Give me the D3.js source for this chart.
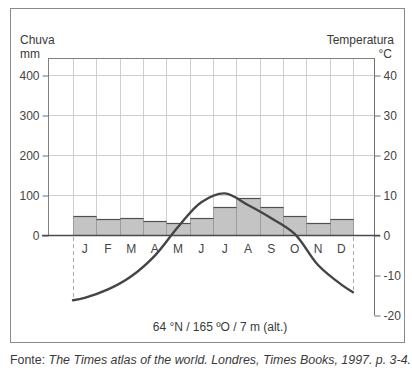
<!DOCTYPE html>
<html>
<head>
<meta charset="utf-8">
<script src="https://cdn.jsdelivr.net/npm/d3@7"></script>
<style>
  body { margin: 0; background: #fff; }
  svg { display: block; font-family: "Liberation Sans", Arial, sans-serif; }
</style>
</head>
<body>
<svg id="chart" width="412" height="374"></svg>
<script>
// Monthly data
var months = ['J', 'F', 'M', 'A', 'M', 'J', 'J', 'A', 'S', 'O', 'N', 'D'];
var rainfall = [47, 39, 42, 34, 29, 42, 69, 93, 69, 47, 31, 39];
var temperature = [-15.7, -13.6, -10.3, -5.2, 2.0, 8.2, 10.4, 7.5, 4.2, 0.3, -7.5, -12.4];
var tempEdges = [-16.3, -14.3];  // curve ends at the start of Jan and end of Dec
var rainTicks = [0, 100, 200, 300, 400];
var tempTicks = [-20, -10, 0, 10, 20, 30, 40];

var svg = d3.select('#chart');
var ink = '#3a3a3a';

var box = { left: 48, right: 374, top: 58, bottom: 235 };

var x = d3.scaleLinear().domain([0, 12]).range([73, 353]);
var yRain = d3.scaleLinear().domain([0, 400]).range([235, 75]);
var yTemp = d3.scaleLinear().domain([0, 40]).range([235, 75]);

// outer frame
svg.append('rect')
  .attr('x', 10.5).attr('y', 8.5)
  .attr('width', 394).attr('height', 334)
  .attr('fill', 'none')
  .attr('stroke', '#8a8a8a');

// grid
var grid = svg.append('g').attr('stroke', '#cfcfcf').attr('stroke-width', 1);
grid.selectAll('line.h')
  .data(rainTicks.slice(1))
  .enter().append('line')
    .attr('x1', box.left).attr('x2', box.right)
    .attr('y1', function(d) { return Math.round(yRain(d)) + 0.5; })
    .attr('y2', function(d) { return Math.round(yRain(d)) + 0.5; });
grid.selectAll('line.v')
  .data(d3.range(13))
  .enter().append('line')
    .attr('x1', function(d) { return Math.round(x(d)) + 0.5; })
    .attr('x2', function(d) { return Math.round(x(d)) + 0.5; })
    .attr('y1', box.top).attr('y2', box.bottom);

// precipitation bars
var bars = svg.append('g');
bars.selectAll('rect')
  .data(rainfall)
  .enter().append('rect')
    .attr('x', function(d, i) { return Math.round(x(i)) + 0.5; })
    .attr('width', function(d, i) { return Math.round(x(i + 1)) - Math.round(x(i)); })
    .attr('y', function(d) { return Math.round(yRain(d)) + 0.5; })
    .attr('height', function(d) { return Math.round(yRain(0)) - Math.round(yRain(d)); })
    .attr('fill', '#c4c4c4')
    .attr('stroke', '#9c9c9c');
bars.selectAll('line')
  .data(rainfall)
  .enter().append('line')
    .attr('x1', function(d, i) { return Math.round(x(i)) + 0.5; })
    .attr('x2', function(d, i) { return Math.round(x(i + 1)) + 0.5; })
    .attr('y1', function(d) { return Math.round(yRain(d)) + 0.5; })
    .attr('y2', function(d) { return Math.round(yRain(d)) + 0.5; })
    .attr('stroke', '#505050')
    .attr('stroke-width', 1.2);

// plot frame
svg.append('rect')
  .attr('x', box.left + 0.5).attr('y', box.top + 0.5)
  .attr('width', box.right - box.left).attr('height', box.bottom - box.top)
  .attr('fill', 'none')
  .attr('stroke', '#808080');

// left axis
var leftAxis = d3.axisLeft(yRain).tickValues(rainTicks).tickSize(6).tickPadding(3);
var gL = svg.append('g').attr('transform', 'translate(' + (box.left + 0.5) + ',0.5)').call(leftAxis);
gL.select('.domain').remove();

// right axis
var rightAxis = d3.axisRight(yTemp).tickValues(tempTicks).tickSize(6).tickPadding(3)
  .tickFormat(function(d) { return d < 0 ? '-' + Math.abs(d) : d; });
var gR = svg.append('g').attr('transform', 'translate(' + (box.right + 0.5) + ',0.5)').call(rightAxis);
gR.select('.domain').attr('d', 'M0,' + box.top + 'V' + yTemp(-20));

[gL, gR].forEach(function(g) {
  g.selectAll('line, path').attr('stroke', '#707070');
  g.selectAll('text')
    .attr('fill', '#444')
    .style('font-size', '12px')
    .style('font-family', '"Liberation Sans", Arial, sans-serif');
});

// zero line
svg.append('line')
  .attr('x1', box.left - 6).attr('x2', box.right + 6)
  .attr('y1', Math.round(yRain(0)) + 0.5).attr('y2', Math.round(yRain(0)) + 0.5)
  .attr('stroke', '#4a4a4a')
  .attr('stroke-width', 1.3);

// dashed drop lines at the ends of the year
svg.selectAll('line.drop')
  .data([{ m: 0, t: tempEdges[0] }, { m: 12, t: tempEdges[1] }])
  .enter().append('line')
    .attr('x1', function(d) { return Math.round(x(d.m)) + 0.5; })
    .attr('x2', function(d) { return Math.round(x(d.m)) + 0.5; })
    .attr('y1', yRain(0) + 2)
    .attr('y2', function(d) { return yTemp(d.t); })
    .attr('stroke', '#aaaaaa')
    .attr('stroke-dasharray', '4,3');

// month labels
svg.append('g').selectAll('text')
  .data(months)
  .enter().append('text')
    .attr('x', function(d, i) { return x(i + 0.5); })
    .attr('y', 253)
    .attr('text-anchor', 'middle')
    .attr('fill', '#444')
    .style('font-size', '12px')
    .text(function(d) { return d; });

// temperature curve
var tempPoints = [[0, tempEdges[0]]]
  .concat(temperature.map(function(t, i) { return [i + 0.5, t]; }))
  .concat([[12, tempEdges[1]]]);

var line = d3.line()
  .x(function(d) { return x(d[0]); })
  .y(function(d) { return yTemp(d[1]); })
  .curve(d3.curveCatmullRom.alpha(0.5));

svg.append('path')
  .datum(tempPoints)
  .attr('d', line)
  .attr('fill', 'none')
  .attr('stroke', '#444')
  .attr('stroke-width', 2.4)
  .attr('stroke-linecap', 'round');

// axis titles
var titles = [
  { t: 'Chuva', x: 20, y: 44, a: 'start' },
  { t: 'mm', x: 20, y: 58, a: 'start' },
  { t: 'Temperatura', x: 394, y: 44, a: 'end' },
  { t: '°C', x: 392, y: 58, a: 'end' }
];
svg.selectAll('text.title')
  .data(titles)
  .enter().append('text')
    .attr('x', function(d) { return d.x; })
    .attr('y', function(d) { return d.y; })
    .attr('text-anchor', function(d) { return d.a; })
    .attr('fill', ink)
    .style('font-size', '12px')
    .text(function(d) { return d.t; });

// station info
svg.append('text')
  .attr('x', 220).attr('y', 331)
  .attr('text-anchor', 'middle')
  .attr('fill', ink)
  .style('font-size', '12px')
  .text('64 °N / 165 ºO / 7 m (alt.)');

// source
var source = svg.append('text')
  .attr('x', 10).attr('y', 364)
  .attr('fill', ink)
  .style('font-size', '12px')
  .attr('textLength', 401)
  .attr('lengthAdjust', 'spacingAndGlyphs');
source.append('tspan').text('Fonte: ');
source.append('tspan').style('font-style', 'italic')
  .text('The Times atlas of the world. Londres, Times Books, 1997. p. 3-4.');
</script>
</body>
</html>
